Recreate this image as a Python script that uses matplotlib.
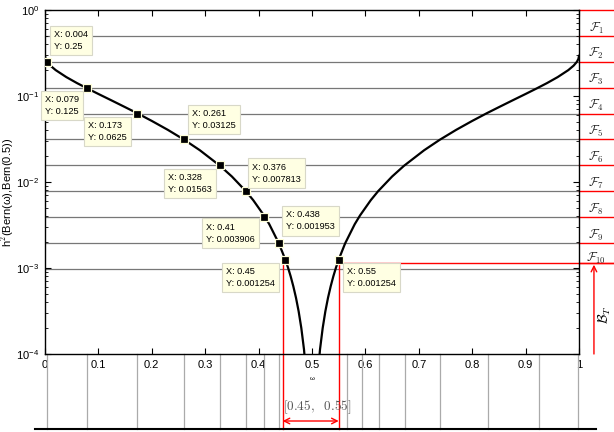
import numpy as np
import matplotlib
matplotlib.use("Agg")
import matplotlib.pyplot as plt
from matplotlib import transforms

plt.rcParams['font.family'] = ['Liberation Sans', 'DejaVu Sans']
plt.rcParams['mathtext.fontset'] = 'cm'

# curve: h^2(Bern(w), Bern(0.5))
omega = [0, 0.001, 0.004, 0.01, 0.02, 0.04, 0.06, 0.079, 0.1, 0.125, 0.15, 0.173,
         0.2, 0.23, 0.261, 0.29, 0.328, 0.35, 0.376, 0.39, 0.41, 0.42, 0.438, 0.45,
         0.455, 0.46, 0.465, 0.47, 0.475, 0.48, 0.485, 0.49,
         0.51, 0.515, 0.52, 0.525, 0.53, 0.535, 0.54, 0.545, 0.55, 0.562, 0.58, 0.59,
         0.61, 0.624, 0.65, 0.672, 0.71, 0.739, 0.77, 0.8, 0.827, 0.85, 0.875, 0.9,
         0.921, 0.94, 0.96, 0.98, 0.99, 0.996, 0.999, 1]
h2 = [0.2929, 0.2709, 0.2496, 0.2257, 0.2000, 0.1658, 0.1412, 0.1227, 0.1056, 0.0886,
      0.0742, 0.0629, 0.0513, 0.0404, 0.0309, 0.0234, 0.01538, 0.01158, 0.00784,
      0.00614, 0.00409, 0.00323, 0.00193, 0.001254, 0.001015, 0.000802, 0.000613,
      0.000451, 0.000313, 0.000200, 0.000113, 0.0000500,
      0.0000500, 0.000113, 0.000200, 0.000313, 0.000451, 0.000613, 0.000802,
      0.001015, 0.001254, 0.00193, 0.00323, 0.00409, 0.00614, 0.00784, 0.01158,
      0.01538, 0.0234, 0.0309, 0.0404, 0.0513, 0.0629, 0.0742, 0.0886, 0.1056,
      0.1227, 0.1412, 0.1658, 0.2000, 0.2257, 0.2496, 0.2709, 0.2929]

# data tips
tip_x = [0.004, 0.079, 0.173, 0.261, 0.328, 0.376, 0.41, 0.438, 0.45, 0.55]
tip_y = [0.25, 0.125, 0.0625, 0.03125, 0.01563, 0.007813, 0.003906, 0.001953, 0.001254, 0.001254]
tip_side = ['ur', 'll', 'll', 'ur', 'll', 'ur', 'll', 'ur', 'll', 'lr']
tip_off = [(3, 7), (-5, -4), (-7, -4), (4, 6), (-5, -4), (3, 4), (-6, -2), (4, 8), (-7, -4), (5, -4)]

levels = [2.0 ** -k for k in range(0, 11)]
level_names = [r'$\mathcal{F}_{%d}$' % k for k in range(1, 11)]
guide_x = [0.004, 0.079, 0.173, 0.261, 0.328, 0.376, 0.41, 0.438,
           0.565, 0.593, 0.625, 0.675, 0.74, 0.83, 0.925, 0.998]
interval = [0.445, 0.55]
interval_label = r'$[0.45,\ \ 0.55]$'
b_level = 0.00114

xticks = [0, 0.1, 0.2, 0.3, 0.4, 0.5, 0.6, 0.7, 0.8, 0.9, 1]
xticklabels = ['0', '0.1', '0.2', '0.3', '0.4', '0.5', '0.6', '0.7', '0.8', '0.9', '1']

fig = plt.figure(figsize=(6.14, 4.32), dpi=100)
ax = fig.add_axes([45 / 614, 78 / 432, 534 / 614, 344 / 432])
ax.set_yscale('log')
ax.set_xlim(0, 1)
ax.set_ylim(1e-4, 1)

# horizontal level lines
for lv in levels[1:]:
    ax.plot([0, 1], [lv, lv], color='#777777', lw=0.9, zorder=1)
right_edge = (614 - 45) / 534
for lv in levels[:10]:
    ax.plot([1, right_edge], [lv, lv], color='red', lw=1.0, clip_on=False)
ax.plot([1, right_edge], [b_level, b_level], color='red', lw=1.0, clip_on=False)

ax.plot(omega, h2, color='black', lw=1.6, zorder=3)

# data tips
for x, y, side, (dx, dy) in zip(tip_x, tip_y, tip_side, tip_off):
    ax.plot(x, y, 's', ms=5.5, mfc='black', mec='#ffffd8', mew=0.9, zorder=5)
    pad = 3.5
    ha = 'left' if side[1] == 'r' else 'right'
    va = 'bottom' if side[0] == 'u' else 'top'
    ox = dx + (pad if ha == 'left' else -pad)
    oy = dy + (pad if va == 'bottom' else -pad)
    ax.annotate('X: %g\nY: %g' % (x, y), xy=(x, y), xytext=(ox, oy),
                textcoords='offset pixels', ha=ha, va=va, multialignment='left',
                fontsize=6.6, linespacing=1.45, zorder=6, annotation_clip=False,
                bbox=dict(boxstyle='square,pad=0.45', fc='#ffffe3', ec='#d8d8c8', lw=0.8))

# level names on the right
for k, name in enumerate(level_names):
    lo = levels[k + 1] if k < 9 else b_level
    yc = np.sqrt(levels[k] * lo)
    ax.annotate(name, xy=(1.032, yc), xytext=(0, -5), textcoords='offset pixels',
                ha='center', va='center', fontsize=9, color='#222222', annotation_clip=False)

ax.set_xticks(xticks)
ax.set_xticklabels(xticklabels)
ax.tick_params(which='both', direction='in', top=True, right=True, labelsize=8)
ax.tick_params(which='major', length=4, pad=4)
ax.tick_params(which='minor', length=2)
for s in ax.spines.values():
    s.set_linewidth(1.0)

ax.set_ylabel('h$^2$(Bern(ω),Bern(0.5))', fontsize=8)
ax.yaxis.set_label_coords(-0.055, 0.47)
ax.text(0.5, -0.07, 'ω', transform=ax.transAxes, ha='center', va='center', fontsize=4.5)

# annotations below / right of the axes
bt = transforms.blended_transform_factory(ax.transData, ax.transAxes)
y_bottom = (354 - 429) / 344
y_red = (354 - 263) / 344
for gx in guide_x:
    ax.plot([gx, gx], [0, y_bottom], color='#aaaaaa', lw=0.9, transform=bt, clip_on=False)
for ix in interval:
    ax.plot([ix, ix], [y_red, y_bottom], color='red', lw=1.0, transform=bt, clip_on=False)
ax.plot([interval[1], right_edge], [y_red, y_red], color='red', lw=1.0, transform=bt, clip_on=False)
ax.plot([-0.019, 1.032], [y_bottom, y_bottom], color='black', lw=1.5, transform=bt, clip_on=False)

ax.annotate('', xy=(interval[0], (354 - 421) / 344), xytext=(interval[1], (354 - 421) / 344),
            xycoords=bt, textcoords=bt, annotation_clip=False,
            arrowprops=dict(arrowstyle='<->', color='red', lw=1.0, shrinkA=0, shrinkB=0))
ax.text(np.mean(interval) + 0.013, (354 - 407) / 344, interval_label, transform=bt,
        ha='center', va='center', fontsize=9.5, color='#555555')

ax.annotate('', xy=(1.028, y_red - 0.005), xytext=(1.028, 0), xycoords=bt, textcoords=bt,
            annotation_clip=False,
            arrowprops=dict(arrowstyle='->', color='red', lw=1.0, shrinkA=0, shrinkB=0))
ax.text(1.049, (354 - 315) / 344, r'$\mathcal{B}_T$', transform=bt, rotation=90,
        ha='center', va='center', fontsize=10)

fig.savefig('out.png', dpi=100)
